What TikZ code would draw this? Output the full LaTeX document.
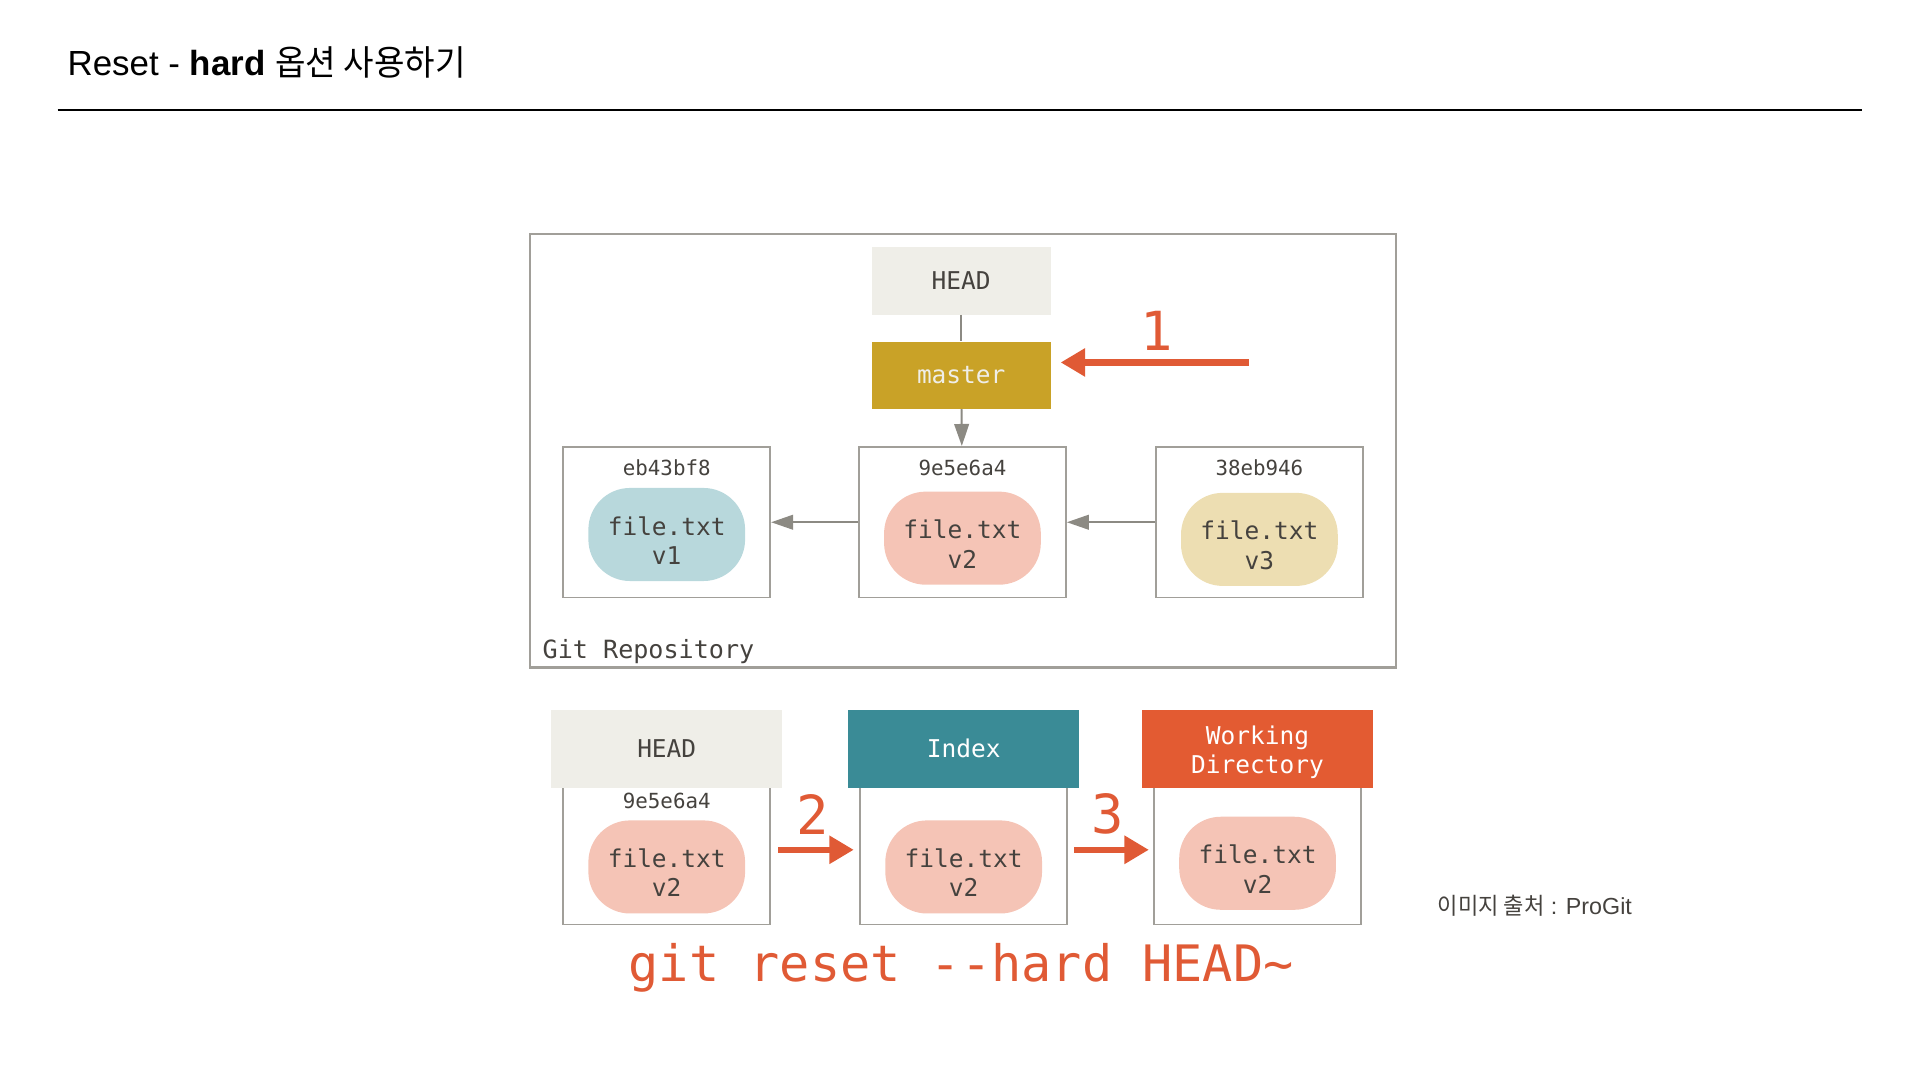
\documentclass[tikz,border=0pt]{standalone}
\usepackage{fontspec}
\setmainfont{Liberation Sans}
\setmonofont{DejaVu Sans Mono}
\newfontfamily\krfont[FakeStretch=0.95]{Noto Sans CJK KR}
\usepackage{xcolor}
\usepackage[]{tikz}
\usetikzlibrary{positioning,calc}
\usetikzlibrary{arrows.meta}
\definecolor{headGray}{HTML}{EFEEE8}
\definecolor{mustard}{HTML}{C9A227}
\definecolor{tealBlue}{HTML}{3A8B96}
\definecolor{strongOrange}{HTML}{E35B32}
\definecolor{arrowRed}{HTML}{E05A35}
\definecolor{blobBlue}{HTML}{B8D8DC}
\definecolor{blobPink}{HTML}{F5C4B6}
\definecolor{blobYellow}{HTML}{EDDEB2}
\definecolor{boxGray}{HTML}{A19F99}
\definecolor{lineGray}{HTML}{8C8A83}
\definecolor{textGray}{HTML}{45423E}
\tikzstyle{monoText}   =[font=\ttfamily\fontsize{20}{24}\selectfont, align=center]
\tikzstyle{nodeHead}   =[monoText, rectangle, fill=headGray, text=textGray, minimum width=146pt, minimum height=55pt]
\tikzstyle{nodeMaster} =[monoText, rectangle, fill=mustard, text=headGray, minimum width=146pt, minimum height=55pt]
\tikzstyle{nodeCommit} =[rectangle, draw=boxGray, line width=1.5pt, minimum width=169pt, minimum height=123pt]
\tikzstyle{nodeTree}   =[rectangle, draw=boxGray, line width=1.5pt, minimum width=169pt, minimum height=112pt]
\tikzstyle{nodeHeader} =[monoText, rectangle, text=white, minimum width=189pt, minimum height=64pt]
\tikzstyle{nodeBlob}   =[monoText, rectangle, rounded corners=34pt, text=textGray, text height=49pt, minimum width=128pt, minimum height=76pt]
\tikzstyle{hashText}   =[font=\ttfamily\fontsize{17}{20}\selectfont, text=textGray]
\tikzstyle{numText}    =[font=\ttfamily\fontsize{44}{50}\selectfont, text=arrowRed]
\tikzstyle{grayLine}   =[draw=lineGray, line width=1.6pt]
\tikzstyle{redArrow}   =[draw=arrowRed, line width=5pt, -{Triangle[length=20pt,width=22pt]}]

\begin{document}
\begin{tikzpicture}[x=1pt, y=-1pt, >={Triangle[length=18pt,width=12pt]}, on grid]
      \useasboundingbox (0,0) rectangle (1568,882);
      % title
      \node[anchor=base west, inner sep=0pt] (title) at (55,62) {\fontsize{28.5}{34}\selectfont Reset - \textbf{hard} {\krfont 옵션 사용하기}};
      \coordinate (rule1) at (47,90);
      \coordinate (rule2) at (1521,90);
      \draw[line width=1.6pt] (rule1) -- (rule2);

      % repository
      \node[rectangle, draw=boxGray, line width=2pt, minimum width=707pt, minimum height=354pt] (repo) at (786.5,368) {};
      \node[monoText, anchor=base west, text=textGray, inner sep=0pt, font=\ttfamily\fontsize{20.5}{24}\selectfont] (repoLabel) at (443,538) {Git Repository};
      \node[nodeHead] (head) at (785,229.5) {HEAD};
      \node[nodeMaster] (master) [below=77pt of head] {master};
      \node[nodeCommit] (c2) at (786,426.5) {};
      \node[nodeCommit] (c1) [left=241.5pt of c2] {};
      \node[nodeCommit] (c3) [right=242.5pt of c2] {};
      \node[hashText] (h1) at ($(c1.north)+(0,18)$) {eb43bf8};
      \node[hashText] (h2) at ($(c2.north)+(0,18)$) {9e5e6a4};
      \node[hashText] (h3) at ($(c3.north)+(0,18)$) {38eb946};
      \node[nodeBlob, fill=blobBlue] (b1) [below=10pt of c1] {file.txt\\v1};
      \node[nodeBlob, fill=blobPink] (b2) [below=13pt of c2] {file.txt\\v2};
      \node[nodeBlob, fill=blobYellow] (b3) [below=14pt of c3] {file.txt\\v3};
      \draw[grayLine] (head) -- (master);
      \draw[->, grayLine] (master) -- (c2);
      \draw[->, grayLine] (c2) -- (c1);
      \draw[->, grayLine] (c3) -- (c2);

      % step 1
      \coordinate (a1) at (1020,296);
      \draw[redArrow, shorten >=8pt] (a1) -- (a1 -| master.east);
      \node[numText] (n1) at (945,270) {1};

      % trees
      \node[nodeTree] (ht) at (544.5,699) {};
      \node[nodeTree] (it) at (787,699) {};
      \node[nodeTree] (wt) at (1027,699) {};
      \node[nodeHeader, fill=headGray, text=textGray] (hh) [above=87.5pt of ht] {HEAD};
      \node[nodeHeader, fill=tealBlue] (ih) [above=87.5pt of it] {Index};
      \node[nodeHeader, fill=strongOrange, text height=45pt] (wh) [above=87.5pt of wt] {Working\\Directory};
      \node[hashText] (h4) at ($(ht.north)+(0,12)$) {9e5e6a4};
      \node[nodeBlob, fill=blobPink] (b4) [below=9pt of ht] {file.txt\\v2};
      \node[nodeBlob, fill=blobPink] (b5) [below=9pt of it] {file.txt\\v2};
      \node[nodeBlob, fill=blobPink] (b6) [below=6pt of wt] {file.txt\\v2};

      % steps 2 and 3
      \coordinate (a2) at (0,694);
      \draw[redArrow, shorten <=6pt, shorten >=4.5pt] (ht.east |- a2) -- (it.west |- a2);
      \draw[redArrow, shorten <=5pt, shorten >=3.5pt] (it.east |- a2) -- (wt.west |- a2);
      \node[numText] (n2) at (664,665) {2};
      \node[numText] (n3) at (905,665) {3};

      \node[font=\ttfamily\fontsize{41}{46}\selectfont, text=arrowRed] (cmd) at (785,790) {git reset -{}-hard HEAD\textasciitilde};
      \node[anchor=west, inner sep=0pt, text=textGray] (credit) at (1174,740) {\fontsize{19}{22}\selectfont{\krfont 이미지 출처} : ProGit};
    \end{tikzpicture}
\end{document}
